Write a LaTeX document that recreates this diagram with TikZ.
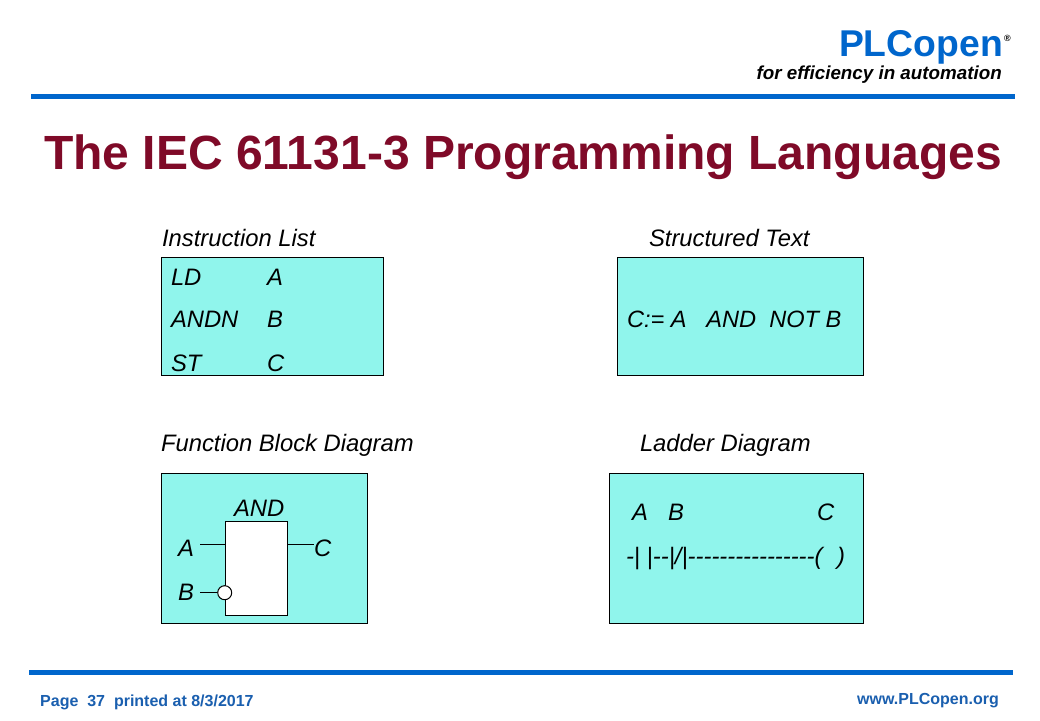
\documentclass[tikz,border=0pt]{standalone}
\usepackage{fontspec}
\setmainfont{Liberation Sans}
\newfontfamily\rawfont{Liberation Sans}
\definecolor{plblue}{HTML}{0066CC}
\definecolor{footblue}{HTML}{1A5FAF}
\definecolor{titlered}{HTML}{7F0A28}
\definecolor{panel}{HTML}{90F5EC}
\tikzset{
  x=1pt,y=-1pt,
  rulebar/.style={fill=plblue,draw=none},
  panelbox/.style={draw=black,line width=1pt,fill=panel},
  lab/.style={anchor=base west,inner sep=0pt,outer sep=0pt,font=\itshape\fontsize{23.8}{26}\selectfont,text=black},
  wire/.style={draw=black,line width=1pt},
}
\begin{document}
\begin{tikzpicture}
\useasboundingbox (0,0) rectangle (1040,720);
\fill[white] (0,0) rectangle (1040,720);
% header and footer
\node[inner sep=0pt,anchor=base east,text=plblue,font=\bfseries\fontsize{37.3}{40}\selectfont] (logo) at (1003,56) {PLCopen};
\node[inner sep=0pt,anchor=base west,text=black,font=\bfseries\fontsize{9}{10}\selectfont] (reg) at (1004,41) {®};
\node[inner sep=0pt,anchor=base east,font=\bfseries\itshape\fontsize{18.8}{20}\selectfont] (tag) at (1002,79) {for efficiency in automation};
\fill[rulebar] (31,94) rectangle (1015,99);
\node[inner sep=0pt,anchor=base west,text=titlered,font=\bfseries\fontsize{48}{50}\selectfont] (title) at (44,169) {The IEC 61131-3 Programming Languages};
\fill[rulebar] (29,670) rectangle (1013,675);
\node[inner sep=0pt,anchor=base west,text=footblue,font=\bfseries\fontsize{16}{18}\selectfont] (page) at (40,706) {Page\ \ 37\ \ printed at 8/3/2017};
\node[inner sep=0pt,anchor=base east,text=footblue,font=\bfseries\fontsize{16}{18}\selectfont] (www) at (999,704) {www.PLCopen.org};
% panel titles
\node[lab] (ilt) at (162,246) {Instruction List};
\node[lab] (stt) at (649,246) {Structured Text};
\node[lab] (fbt) at (161,451) {Function Block Diagram};
\node[lab] (ldt) at (640,451) {Ladder Diagram};
% panels
\draw[panelbox] (161.5,257.5) rectangle (383.5,375.5);
\draw[panelbox] (617.5,257.5) rectangle (863.5,375.5);
\draw[panelbox] (161.5,473.5) rectangle (367.5,623.5);
\draw[panelbox] (609.5,473.5) rectangle (863.5,623.5);
% IL
\node[lab] (il1) at (171,285) {LD};
\node[lab] (il1b) at (267,285) {A};
\node[lab] (il2) at (171,327) {ANDN};
\node[lab] (il2b) at (267,327) {B};
\node[lab] (il3) at (171,371) {ST};
\node[lab] (il3b) at (267,371) {C};
% ST
\node[lab,font=\itshape\fontsize{23.6}{26}\selectfont] (st) at (627,327) {C:= A\ \ \ AND\ \ NOT B};
% FBD
\node[lab] (and) at (234,516) {AND};
\node[draw=black,line width=1pt,fill=white,inner sep=0pt,minimum width=62pt,minimum height=94pt] (blk) at (256.5,568.3) {};
\node[lab] (fa) at (178,556) {A};
\node[lab] (fb) at (178,600) {B};
\node[lab] (fc) at (314,556) {C};
\node[draw=black,line width=1pt,fill=white,circle,inner sep=0pt,minimum size=14pt] (neg) at (224.7,592.7) {};
\coordinate (aend) at (200,544.3);
\coordinate (bend) at (200,592.7);
\coordinate (cend) at (313.5,544.3);
\draw[wire] (aend) -- (blk.west |- aend);
\draw[wire] (bend) -- (neg.west);
\draw[wire] (blk.east |- cend) -- (cend);
% LD
\node[lab] (la) at (632,520) {A};
\node[lab] (lb) at (668,520) {B};
\node[lab] (lc) at (817,520) {C};
\node[lab] (rung) at (626,564) {\rawfont\itshape -| |--|/|----------------( \ \kern1.5pt)};
\end{tikzpicture}
\end{document}
